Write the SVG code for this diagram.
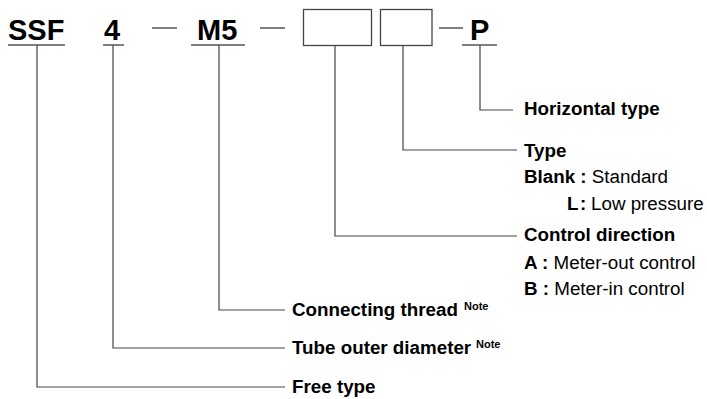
<svg xmlns="http://www.w3.org/2000/svg" width="707" height="399" viewBox="0 0 707 399">
<style>
.code{font-family:"Liberation Sans",Arial,sans-serif;font-weight:bold;font-size:29px;fill:#000}
.lbl{font-family:"Liberation Sans",Arial,sans-serif;font-size:18.8px;fill:#000}
.b{font-weight:bold}
.note{font-family:"Liberation Sans",Arial,sans-serif;font-weight:bold;font-size:11px;fill:#000}
.ul{stroke:#555;stroke-width:1.5;fill:none}
.ln{stroke:#444;stroke-width:1.2;fill:none}
.box{stroke:#444;stroke-width:1.3;fill:#fff}
</style>
<rect width="707" height="399" fill="#fff"/>
<g id="code">
  <g id="ssf"><text class="code" x="8" y="39.5">SSF</text><line class="ul" x1="8" y1="45" x2="65" y2="45"/></g>
  <g id="size"><text class="code" x="104" y="39.5">4</text><line class="ul" x1="103" y1="45" x2="124" y2="45"/></g>
  <line class="ul" x1="152" y1="28" x2="177" y2="28"/>
  <g id="thread"><text class="code" x="197" y="39.5">M5</text><line class="ul" x1="191" y1="45" x2="245" y2="45"/></g>
  <line class="ul" x1="260" y1="28" x2="285" y2="28"/>
  <g id="box1"><rect class="box" x="303.5" y="9.5" width="68" height="36"/></g>
  <g id="box2"><rect class="box" x="380.5" y="9.5" width="51.5" height="36"/></g>
  <line class="ul" x1="439" y1="28" x2="463" y2="28"/>
  <g id="p"><text class="code" x="470" y="39.5">P</text><line class="ul" x1="462" y1="45" x2="497" y2="45"/></g>
</g>
<g id="connectors">
  <polyline class="ln" points="37,45 37,387 285,387"/>
  <polyline class="ln" points="113,45 113,348 285,348"/>
  <polyline class="ln" points="219,45 219,310 285,310"/>
  <polyline class="ln" points="335,45 335,236 517,236"/>
  <polyline class="ln" points="403,45 403,150 517,150"/>
  <polyline class="ln" points="480,45 480,110 513,110"/>
</g>
<g id="horizontal">
  <text class="lbl b" x="524" y="115">Horizontal type</text>
</g>
<g id="type">
  <text class="lbl b" x="524" y="157">Type</text>
  <text class="lbl" x="524" y="183"><tspan class="b">Blank :</tspan> Standard</text>
  <text class="lbl" y="209.5"><tspan class="b" x="567">L</tspan><tspan class="b" x="580">:</tspan><tspan x="591"> </tspan><tspan x="591">Low pressure</tspan></text>
</g>
<g id="control">
  <text class="lbl b" x="524" y="241">Control direction</text>
  <text class="lbl" x="524" y="268.5"><tspan class="b">A :</tspan> Meter-out control</text>
  <text class="lbl" x="524" y="294.5"><tspan class="b">B :</tspan> Meter-in control</text>
</g>
<g id="connecting">
  <text class="lbl b" x="292" y="316">Connecting thread</text>
  <text class="note" x="464" y="310">Note</text>
</g>
<g id="tube">
  <text class="lbl b" x="292" y="354">Tube outer diameter</text>
  <text class="note" x="476" y="348">Note</text>
</g>
<g id="free">
  <text class="lbl b" x="292" y="393">Free type</text>
</g>
</svg>
